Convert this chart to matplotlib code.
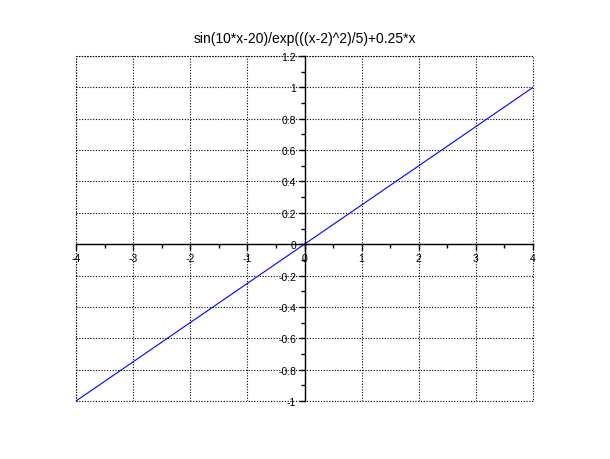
import matplotlib
matplotlib.use('Agg')
import matplotlib.pyplot as plt
from matplotlib.patches import Rectangle
from matplotlib.ticker import MultipleLocator

plt.rcParams['font.family'] = ['Liberation Sans', 'DejaVu Sans']

title = "sin(10*x-20)/exp(((x-2)^2)/5)+0.25*x"
xs = [-4, 4]
ys = [-1, 1]
xTicks = [-4, -3, -2, -1, 0, 1, 2, 3, 4]
yTicks = [-1, -0.8, -0.6, -0.4, -0.2, 0, 0.2, 0.4, 0.6, 0.8, 1, 1.2]

fig = plt.figure(figsize=(6.1, 4.6), dpi=100)
ax = fig.add_axes([76 / 610, 58 / 460, 457 / 610, 345 / 460])

ax.plot(xs, ys, color='#0000ff', linewidth=0.8, zorder=3)
ax.set_xlim(-4, 4)
ax.set_ylim(-1, 1.2)

ax.set_xticks(xTicks)
ax.set_xticklabels([str(t) for t in xTicks])
ax.set_yticks(yTicks)
ax.set_yticklabels(['%g' % t for t in yTicks])
ax.xaxis.set_minor_locator(MultipleLocator(0.5))
ax.yaxis.set_minor_locator(MultipleLocator(0.1))

ax.spines['left'].set_position(('data', 0))
ax.spines['bottom'].set_position(('data', 0))
ax.spines['top'].set_visible(False)
ax.spines['right'].set_visible(False)
for s in ('left', 'bottom'):
    ax.spines[s].set_linewidth(1.0)
    ax.spines[s].set_zorder(4)

ax.tick_params(which='major', direction='out', length=4, width=1, labelsize=7.5, pad=2)
ax.tick_params(which='minor', direction='out', length=3, width=1)

ax.grid(True, which='major', color='black', linestyle=(0, (1, 1.5)), linewidth=0.8)
ax.add_patch(Rectangle((0, 0), 1, 1, transform=ax.transAxes, fill=False,
                       edgecolor='black', linestyle=(0, (1, 1.5)), linewidth=0.8, clip_on=False))

ax.set_title(title, fontsize=10, pad=10)

fig.savefig('out.png', dpi=100)
